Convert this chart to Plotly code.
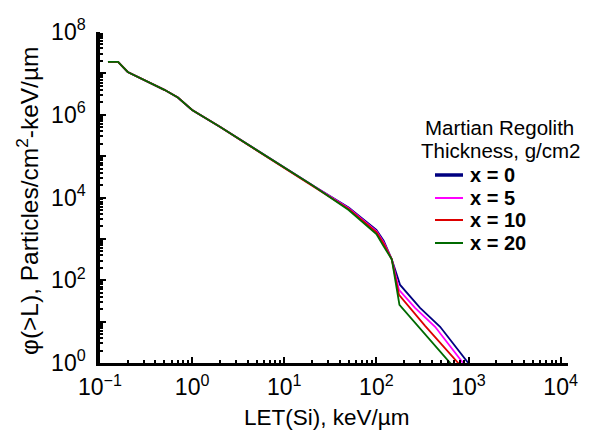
import plotly.graph_objects as go

# LET (Si) spectrum behind Martian regolith shielding
SERIES_LABELS = ["x = 0", "x = 5", "x = 10", "x = 20"]
SERIES_COLORS = ["#000080", "#ff00ff", "#dd0000", "#006a00"]

# Shared low-LET part of the integral spectrum (keV/um, particles/cm2)
LET_COMMON = [0.122, 0.157, 0.2, 0.3, 0.5, 0.7, 1.0, 2.0, 5.0, 10.0, 20.0]
FLUX_COMMON = [1.9e7, 1.9e7, 1.08e7, 6.9e6, 4.0e6, 2.6e6, 1.3e6, 5.1e5, 1.4e5, 5.1e4, 2.0e4]

# High-LET part for each regolith thickness
LET_X0 = [50, 100, 120, 147, 181, 298, 492, 991, 1060]
FLUX_X0 = [5.7e3, 1.65e3, 900, 320, 77, 21.5, 7.5, 1.0, 0.83]
LET_X5 = [50, 100, 120, 147, 176, 263, 434, 873, 942]
FLUX_X5 = [5.5e3, 1.55e3, 820, 320, 58.6, 21.5, 7.5, 1.0, 0.83]
LET_X10 = [50, 100, 120, 147, 176, 338, 771, 832]
FLUX_X10 = [5.3e3, 1.45e3, 760, 320, 44.4, 7.9, 1.0, 0.83]
LET_X20 = [50, 100, 120, 147, 178, 338, 631, 680]
FLUX_X20 = [5.0e3, 1.3e3, 660, 320, 25.5, 5.1, 1.0, 0.83]

TAIL_LET = [LET_X0, LET_X5, LET_X10, LET_X20]
TAIL_FLUX = [FLUX_X0, FLUX_X5, FLUX_X10, FLUX_X20]

# Decade tick positions and their labels
X_DECADES = [-1, 0, 1, 2, 3, 4]
Y_DECADES = [0, 1, 2, 3, 4, 5, 6, 7, 8]
Y_LABELLED = [0, 2, 4, 6, 8]


def power_label(e):
    return "10<sup>" + (str(e) if e >= 0 else "\u2212" + str(-e)) + "</sup>"


W, H = 595, 432
ML, MR, MT, MB = 100, 27, 32, 69
PW, PH = W - ML - MR, H - MT - MB
FONT = "Liberation Sans, Arial, Helvetica, sans-serif"


def px(x):
    return (x - ML) / PW


def py(y):
    return (H - MB - y) / PH


fig = go.Figure()
for lab, col, lx, fx in zip(SERIES_LABELS, SERIES_COLORS, TAIL_LET, TAIL_FLUX):
    fig.add_trace(go.Scatter(
        x=LET_COMMON + lx, y=FLUX_COMMON + fx, mode="lines", name=lab,
        line=dict(color=col, width=1.8), showlegend=False,
    ))

axis_common = dict(
    type="log", showgrid=False, zeroline=False, showline=True, linecolor="black",
    ticks="inside", tickcolor="black", tickwidth=2, ticklen=6, tickmode="array",
    minor=dict(ticks="inside", ticklen=3, tickwidth=1.5, tickcolor="black", dtick="D1", showgrid=False),
)
fig.update_xaxes(
    range=[-1, 4.08], linewidth=2.5, ticklabelstandoff=2,
    tickvals=[10.0 ** e for e in X_DECADES],
    ticktext=[power_label(e) for e in X_DECADES],
    tickfont=dict(family=FONT, size=23, color="black"), **axis_common,
)
fig.update_yaxes(
    range=[0, 8], linewidth=3.5, ticklabelstandoff=6,
    tickvals=[10.0 ** e for e in Y_DECADES],
    ticktext=[power_label(e) if e in Y_LABELLED else "" for e in Y_DECADES],
    tickfont=dict(family=FONT, size=23, color="black"), **axis_common,
)

annotations = [
    dict(text="LET(Si), keV/µm", x=px(327), y=py(403), showarrow=False,
         xanchor="center", yanchor="top", font=dict(size=22.5)),
    dict(text="φ(>L), Particles/cm<sup>2</sup>-keV/µm", x=px(27), y=py(201), showarrow=False,
         textangle=-90, xanchor="center", yanchor="middle", font=dict(size=24.5)),
    dict(text="Martian Regolith", x=px(499), y=py(127), showarrow=False,
         xanchor="center", yanchor="middle", font=dict(size=20.5)),
    dict(text="Thickness, g/cm2", x=px(501), y=py(150), showarrow=False,
         xanchor="center", yanchor="middle", font=dict(size=20.5)),
]
shapes = []
row_y = [175, 198, 220, 243]
for i, (lab, col) in enumerate(zip(SERIES_LABELS, SERIES_COLORS)):
    shapes.append(dict(type="line", xref="paper", yref="paper",
                       x0=px(435), x1=px(463), y0=py(row_y[i]), y1=py(row_y[i]),
                       line=dict(color=col, width=3.5 if i == 0 else 2)))
    annotations.append(dict(text="<b>" + lab + "</b>", x=px(468), y=py(row_y[i]), showarrow=False,
                            xanchor="left", yanchor="middle", font=dict(size=20)))
for a in annotations:
    a["xref"] = "paper"
    a["yref"] = "paper"

fig.update_layout(
    width=W, height=H, margin=dict(l=ML, r=MR, t=MT, b=MB),
    paper_bgcolor="white", plot_bgcolor="white",
    font=dict(family=FONT, color="black"),
    annotations=annotations, shapes=shapes, showlegend=False,
)

fig.write_html("out.html")
